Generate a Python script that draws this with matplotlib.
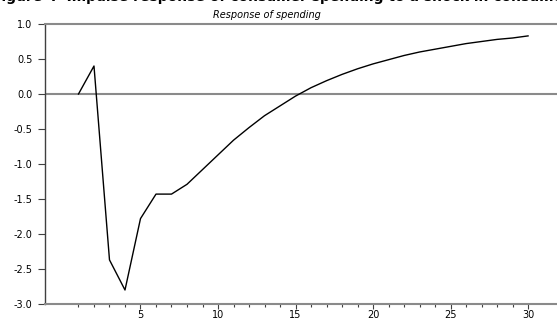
import numpy as np
import matplotlib
matplotlib.use('Agg')
import matplotlib.pyplot as plt
from matplotlib.ticker import FixedLocator

# response of spending, periods 1..30
periods = list(range(1, 31))
response = [0.00, 0.40, -2.37, -2.80, -1.78, -1.43, -1.43, -1.29, -1.08, -0.87,
            -0.66, -0.48, -0.31, -0.17, -0.03, 0.09, 0.19, 0.28, 0.36, 0.43,
            0.49, 0.55, 0.60, 0.64, 0.68, 0.72, 0.75, 0.78, 0.80, 0.83]
y_ticks = [1.0, 0.5, 0.0, -0.5, -1.0, -1.5, -2.0, -2.5, -3.0]
x_labels = [5, 10, 15, 20, 25, 30]

W, H = 557, 321
fig = plt.figure(figsize=(W / 100, H / 100), dpi=100)
# axes left edge at px 45, runs past the right edge of the picture (cropped)
ax = fig.add_axes([45 / W, 1 - 304 / H, 557 / W, (304 - 24) / H])

grey = '#8a8a8a'
ax.plot(periods, response, color='black', lw=1.0, zorder=3)
ax.axhline(0, color=grey, lw=1.5, zorder=2)

ax.set_xlim(-1.16, 34.77)
ax.set_ylim(-3.0, 1.0)

ax.spines['right'].set_visible(False)
ax.spines['top'].set_color(grey)
ax.spines['top'].set_linewidth(1.5)
ax.spines['bottom'].set_color(grey)
ax.spines['bottom'].set_linewidth(1.5)
ax.spines['left'].set_color('#404040')
ax.spines['left'].set_linewidth(1.0)

ax.set_yticks(y_ticks)
ax.set_yticklabels(['%.1f' % v for v in y_ticks])
ax.xaxis.set_major_locator(FixedLocator(x_labels))
ax.xaxis.set_minor_locator(FixedLocator([p for p in periods if p not in x_labels]))
ax.set_xticklabels([str(v) for v in x_labels])

ax.tick_params(axis='y', direction='out', length=5, width=0.8, color='#404040',
               labelsize=7, pad=4)
ax.tick_params(axis='x', which='major', direction='out', length=3.5, width=0.8,
               color='#404040', labelsize=7, pad=1)
ax.tick_params(axis='x', which='minor', direction='out', length=2.2, width=0.8,
               color='#404040')

fig.text(267 / W, 1 - 18 / H, 'Response of spending', ha='center', va='baseline',
         fontsize=7, style='italic')
# figure caption, cut off at the top of the image in the reference
fig.text(-8 / W, 1 - 1 / H,
         'Figure 4  Impulse response of consumer spending to a shock in consumer expectations',
         ha='left', va='baseline', fontsize=10, fontweight='bold')

fig.savefig('out.png', dpi=100)
